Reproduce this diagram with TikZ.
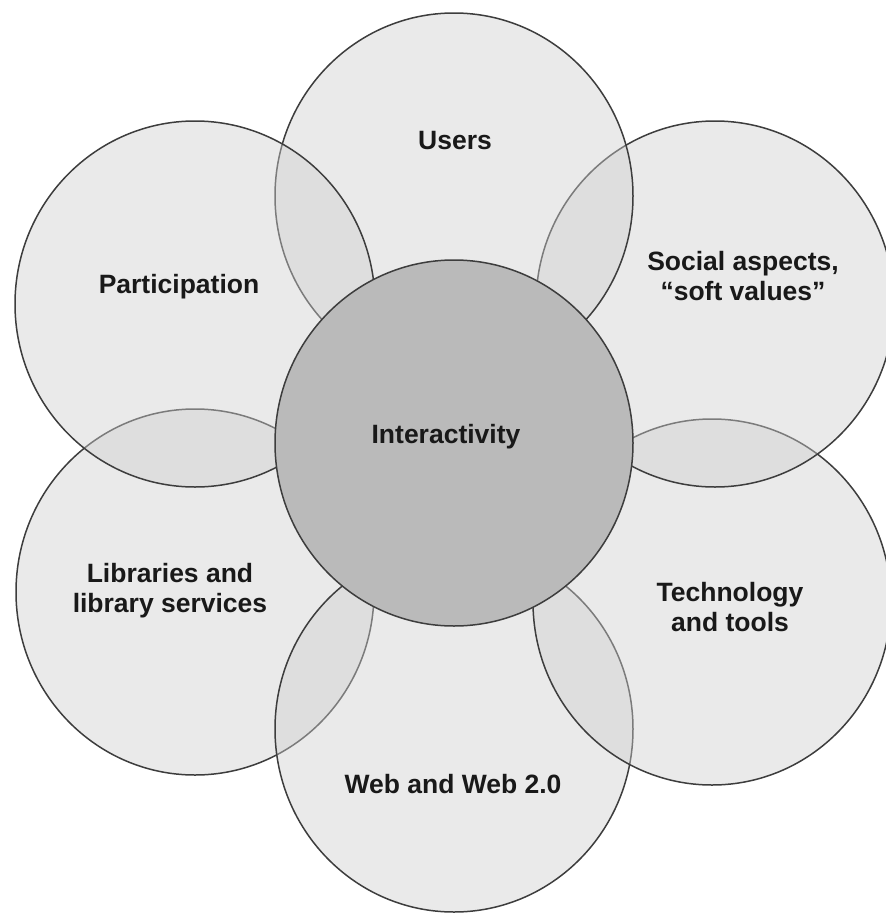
\documentclass[tikz,border=0pt]{standalone}
\usepackage{fontspec}
\setmainfont{Liberation Sans}
\definecolor{petalgray}{gray}{0.808}
\definecolor{coregray}{gray}{0.73}
\definecolor{linegray}{gray}{0.24}
\begin{document}
\begin{tikzpicture}[x=1pt,y=-1pt,
  petal/.style={fill=petalgray, fill opacity=0.43, draw=linegray, line width=1.5pt},
  core/.style={fill=coregray, draw=linegray, line width=1.5pt},
  lbl/.style={font=\bfseries\fontsize{26.5}{30}\selectfont, align=center, text=black!90, inner sep=0pt}]
\useasboundingbox (0,0) rectangle (886,913);
\clip (0,0) rectangle (886,913);
\coordinate (cLib) at (195,592);
\coordinate (cWeb) at (454,729);
\coordinate (cTech) at (712,602);
\coordinate (cSoc) at (715,304);
\coordinate (cUsr) at (454,196);
\coordinate (cPart) at (195,304);
\coordinate (cCore) at (454,443);
\path[petal] (cLib) ellipse [x radius=179pt, y radius=183pt];
\path[petal] (cWeb) ellipse [x radius=179pt, y radius=183pt];
\path[petal] (cTech) ellipse [x radius=179pt, y radius=183pt];
\path[petal] (cSoc) ellipse [x radius=179pt, y radius=183pt];
\path[petal] (cUsr) ellipse [x radius=179pt, y radius=183pt];
\path[petal] (cPart) ellipse [x radius=180pt, y radius=183pt];
\path[core] (cCore) ellipse [x radius=179pt, y radius=183pt];
\node[lbl] (users) at (455,141) {Users};
\node[lbl] (part) at (179,287) {Participation};
\node[lbl] (soc) at (743,276) {Social aspects,\\“soft values”};
\node[lbl] (inter) at (446,437) {Interactivity};
\node[lbl] (lib) at (170,591) {Libraries and\\library services};
\node[lbl] (tech) at (730,607) {Technology\\and tools};
\node[lbl] (web) at (453,784) {Web and Web 2.0};
\end{tikzpicture}
\end{document}
